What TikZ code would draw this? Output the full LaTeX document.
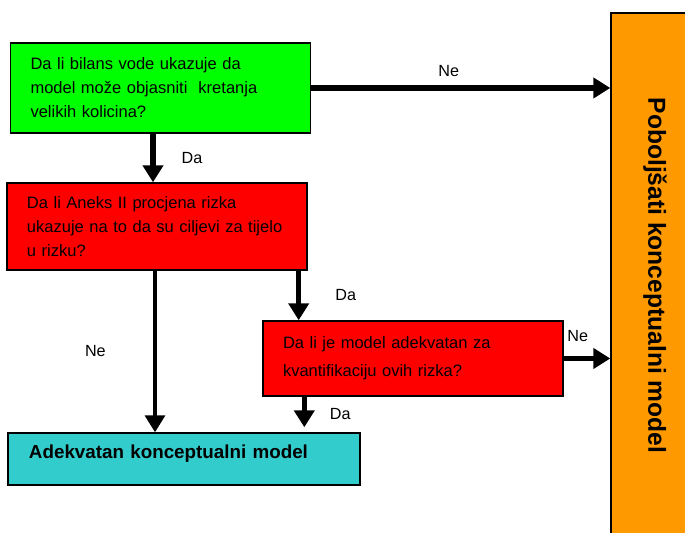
\documentclass[tikz,border=0pt]{standalone}
\usepackage{fontspec}
\setmainfont{Liberation Sans}
\usetikzlibrary{arrows.meta, positioning}
\definecolor{qgreen}{HTML}{00FF00}
\definecolor{qred}{HTML}{FF0000}
\definecolor{okcyan}{HTML}{33CCCC}
\definecolor{fixorange}{HTML}{FF9900}
\hyphenpenalty=10000

\begin{document}
\begin{tikzpicture}[
  qbox/.style  = {draw=black, line width=0.8pt, text width=5.2cm, inner xsep=0.4cm, align=left, font=\fontsize{9.4}{13.7}\selectfont},
  okbox/.style = {draw=black, line width=0.8pt, fill=okcyan, text width=6.2cm, inner xsep=0.42cm, align=left, font=\fontsize{10.7}{13}\selectfont\bfseries},
  arr/.style   = {-{Triangle[length=0.34cm,width=0.4cm]}, line width=3pt},
  lbl/.style   = {font=\fontsize{9.2}{11}\selectfont, inner sep=0pt},
]
\clip (0,0) rectangle (13.7,10.66);
% question boxes
\node[qbox, fill=qgreen, minimum height=1.8cm] (bilans) at (3.21, 8.9) {Da li bilans vode ukazuje da\\model može objasniti~ kretanja\\velikih kolicina?};
\node[qbox, fill=qred, minimum height=1.74cm] (aneks) at (3.14, 6.13) {Da li Aneks II procjena rizka\\ukazuje na to da su ciljevi za tijelo\\u rizku?};
\node[qbox, fill=qred, minimum height=1.5cm] (kvant) at (8.26, 3.49) {Da li je model adekvatan za\\[2pt]kvantifikaciju ovih rizka?};
% outcomes
\node[okbox, minimum height=1.04cm, text depth=0.3cm] (adekvatan) at (3.68, 1.48) {Adekvatan konceptualni model};
\node[draw=black, line width=0.8pt, fill=fixorange, rotate=-90, minimum width=10.5cm, minimum height=1.76cm, font=\fontsize{14}{16}\selectfont\bfseries] (poboljsati) at (13.1, 5.15) {Poboljšati konceptualni model};

\coordinate (daA) at ([xshift=-0.15cm]bilans.south);
\coordinate (neA) at ([xshift=-0.04cm]aneks.south);
\coordinate (daB) at ([xshift=-0.18cm]aneks.south east);
\coordinate (daC) at ([xshift=0.84cm]kvant.south west);

\draw[arr] (bilans.east) -- node[lbl, pos=0.46, above=0.18cm] {Ne} (bilans.east -| poboljsati.south);
\draw[arr] (daA) -- node[lbl, right=0.52cm] {Da} (daA |- aneks.north);
\draw[arr, line width=2pt] (neA) -- node[lbl, left=0.95cm] {Ne} (neA |- adekvatan.north);
\draw[arr] (daB) -- node[lbl, right=0.68cm] {Da} (daB |- kvant.north);
\draw[arr] (kvant.east) -- node[lbl, pos=0.3, above=0.28cm] {Ne} (kvant.east -| poboljsati.south);
\draw[arr, shorten >=0.1cm] (daC) -- node[lbl, right=0.46cm] {Da} (daC |- adekvatan.north);
\end{tikzpicture}
\end{document}
